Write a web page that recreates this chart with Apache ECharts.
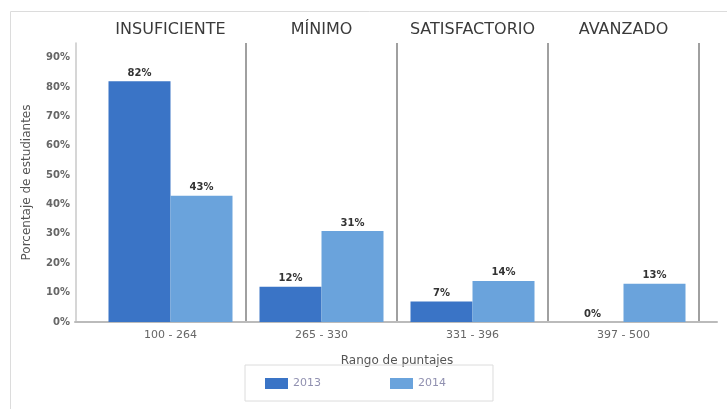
<!DOCTYPE html>
<html>
<head>
<meta charset="utf-8">
<script src="https://cdn.jsdelivr.net/npm/echarts@6/dist/echarts.min.js"></script>
<style>
html,body{margin:0;padding:0;background:#fff;}
#c{width:727px;height:409px;}
</style>
</head>
<body>
<div id="c"></div>
<script>
var ranges = ['100 - 264', '265 - 330', '331 - 396', '397 - 500'];
var levels = ['INSUFICIENTE', 'MÍNIMO', 'SATISFACTORIO', 'AVANZADO'];
var values2013 = [82, 12, 7, 0];
var values2014 = [43, 31, 14, 13];
var seriesNames = ['2013', '2014'];

var chart = echarts.init(document.getElementById('c'));
var labelStyle = {show: true, position: 'top', formatter: '{c}%', color: '#333', fontSize: 10, fontWeight: 'bold', fontFamily: 'DejaVu Sans', distance: 3};
chart.setOption({
  animation: false,
  graphic: [{type: 'rect', shape: {x: 10.5, y: 11.5, width: 740, height: 420}, style: {fill: 'none', stroke: '#dcdcdc', lineWidth: 1}, silent: true}],
  grid: [
    {left: 95, right: 28, top: 43, height: 279},
    {left: 75, right: 10, top: 43, height: 279}
  ],
  xAxis: [
    {type: 'category', gridIndex: 0, data: ranges, position: 'bottom',
     axisLine: {show: false}, axisTick: {show: false},
     axisLabel: {color: '#666', fontSize: 11, fontFamily: 'DejaVu Sans', margin: 8, interval: 0},
     splitLine: {show: true, interval: function (i) { return i !== 0; }, lineStyle: {color: '#a0a0a0', width: 2}},
     name: 'Rango de puntajes', nameLocation: 'middle', nameGap: 33,
     nameTextStyle: {color: '#555', fontSize: 12, fontFamily: 'DejaVu Sans'}},
    {type: 'category', gridIndex: 0, data: levels, position: 'top',
     axisLine: {show: false}, axisTick: {show: false},
     axisLabel: {color: '#3a3a3a', fontSize: 16, fontFamily: 'DejaVu Sans', margin: 5, interval: 0, hideOverlap: false}},
    {type: 'value', gridIndex: 1, min: 0, max: 1,
     axisLine: {show: true, lineStyle: {color: '#bbb', width: 2}}, axisTick: {show: false},
     axisLabel: {show: false}, splitLine: {show: false}}
  ],
  yAxis: [
    {type: 'value', gridIndex: 0, min: 0, max: 95, interval: 10, offset: 19,
     axisLine: {show: true, lineStyle: {color: '#c8c8c8', width: 1.5}}, axisTick: {show: false},
     axisLabel: {formatter: '{value}%', color: '#666', fontSize: 10, fontWeight: 'bold', fontFamily: 'DejaVu Sans', showMaxLabel: false, margin: 6},
     splitLine: {show: false},
     name: 'Porcentaje de estudiantes', nameLocation: 'middle', nameGap: 43,
     nameTextStyle: {color: '#555', fontSize: 12, fontFamily: 'DejaVu Sans'}},
    {type: 'value', gridIndex: 1, show: false, min: 0, max: 1}
  ],
  legend: {
    data: seriesNames, left: 245, top: 365,
    padding: [13, 47, 12, 20], itemWidth: 23, itemHeight: 11, itemGap: 69,
    borderColor: '#dcdcdc', borderWidth: 1,
    textStyle: {color: '#9090b0', fontSize: 11, fontFamily: 'DejaVu Sans'},
    icon: 'rect'
  },
  series: [
    {name: seriesNames[0], type: 'bar', xAxisIndex: 0, yAxisIndex: 0, data: values2013, barWidth: 62, barGap: '0%',
     itemStyle: {color: '#3a74c6'}, label: labelStyle},
    {name: seriesNames[1], type: 'bar', xAxisIndex: 0, yAxisIndex: 0, data: values2014, barWidth: 62, barGap: '0%',
     itemStyle: {color: '#6aa3dc'}, label: labelStyle}
  ]
});
</script>
</body>
</html>
